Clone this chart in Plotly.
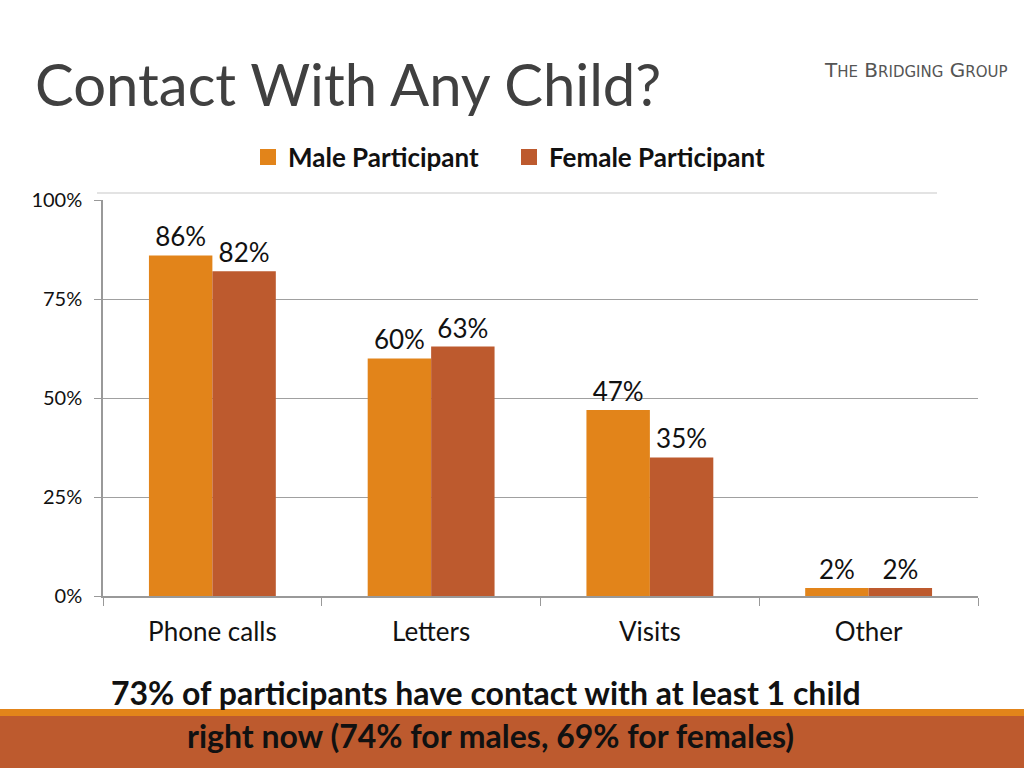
import plotly.graph_objects as go

categories = ["Phone calls", "Letters", "Visits", "Other"]
male_values = [86, 60, 47, 2]
female_values = [82, 63, 35, 2]
y_ticks = [0, 25, 50, 75, 100]
y_tick_labels = ["0%", "25%", "50%", "75%", "100%"]

MALE = "#E2841A"
FEMALE = "#BD5A2E"
FONT = "Lato, Open Sans, sans-serif"

W, H = 1024, 768
L, R, T, B = 103, 46, 200, 172
PW, PH = W - L - R, H - T - B

def px(x):
    return (x - L) / PW

def py(y):
    return (H - B - y) / PH

fig = go.Figure()
fig.add_trace(go.Bar(
    x=categories, y=male_values, name="Male Participant", showlegend=False,
    marker=dict(color=MALE, line=dict(width=0)),
    text=[f"{v}%" for v in male_values], textposition="outside",
    textfont=dict(size=26, color="#111", family=FONT), cliponaxis=False,
))
fig.add_trace(go.Bar(
    x=categories, y=female_values, name="Female Participant", showlegend=False,
    marker=dict(color=FEMALE, line=dict(width=0)),
    text=[f"{v}%" for v in female_values], textposition="outside",
    textfont=dict(size=26, color="#111", family=FONT), cliponaxis=False,
))
# legend entries (square swatches)
for name, col in [("Male Participant", MALE), ("Female Participant", FEMALE)]:
    fig.add_trace(go.Scatter(
        x=[None], y=[None], mode="markers", name=name,
        marker=dict(symbol="square", size=16, color=col),
    ))

fig.update_layout(
    width=W, height=H,
    margin=dict(l=L, r=R, t=T, b=B),
    paper_bgcolor="white", plot_bgcolor="white",
    barmode="group", bargap=0.42, bargroupgap=0,
    font=dict(family=FONT, color="#111"),
    legend=dict(
        orientation="h", x=px(248), xanchor="left", y=py(157), yanchor="middle",
        font=dict(size=26, family=FONT, color="#111", weight="bold"),
        itemwidth=30, traceorder="normal", entrywidth=216, entrywidthmode="pixels",
        bgcolor="rgba(0,0,0,0)",
    ),
    xaxis=dict(
        tickson="boundaries", ticks="outside", ticklen=8, tickcolor="#999",
        showline=True, linecolor="#999", linewidth=1.5,
        tickfont=dict(size=26, family=FONT, color="#111"),
        ticklabelstandoff=12,
        showgrid=False,
    ),
    yaxis=dict(
        range=[0, 100], tickvals=y_ticks, ticktext=y_tick_labels,
        ticks="outside", ticklen=7, tickcolor="#999",
        showline=True, linecolor="#999", linewidth=1.5,
        showgrid=True, gridcolor="#a0a0a0", gridwidth=1.3,
        tickfont=dict(size=20, family=FONT, color="#111"),
        ticklabelstandoff=8,
        zeroline=False,
    ),
    shapes=[
        dict(type="line", xref="paper", yref="paper", x0=px(97), x1=px(937),
             y0=py(193), y1=py(193), line=dict(color="#c8c8c8", width=1.2)),
        dict(type="rect", xref="paper", yref="paper", x0=px(0), x1=px(W),
             y0=py(716), y1=py(709), fillcolor="#E2841A", line=dict(width=0), layer="below"),
        dict(type="rect", xref="paper", yref="paper", x0=px(0), x1=px(W),
             y0=py(768), y1=py(716), fillcolor="#BD5A2E", line=dict(width=0), layer="below"),
    ],
    annotations=[
        dict(text="Contact With Any Child?", xref="paper", yref="paper",
             x=px(33), y=py(84), xanchor="left", yanchor="middle", showarrow=False,
             font=dict(size=58, family=FONT, color="#404040")),
        dict(text="T<span style='font-size:15px'>HE</span> B<span style='font-size:15px'>RIDGING</span> G<span style='font-size:15px'>ROUP</span>",
             xref="paper", yref="paper", x=px(915), y=py(70), xanchor="center", yanchor="middle",
             showarrow=False, font=dict(size=20, family="DejaVu Sans, sans-serif", color="#555")),
        dict(text="<b>73% of participants have contact with at least 1 child</b>",
             xref="paper", yref="paper", x=px(486), y=py(692), xanchor="center", yanchor="middle",
             showarrow=False, font=dict(size=32, family=FONT, color="#111")),
        dict(text="<b>right now (74% for males, 69% for females)</b>",
             xref="paper", yref="paper", x=px(490), y=py(735), xanchor="center", yanchor="middle",
             showarrow=False, font=dict(size=32, family=FONT, color="#111")),
    ],
)

fig.write_html(
    "out.html",
    config={"displayModeBar": False},
    post_script="document.body.style.margin='0';document.body.style.overflow='hidden';",
)
